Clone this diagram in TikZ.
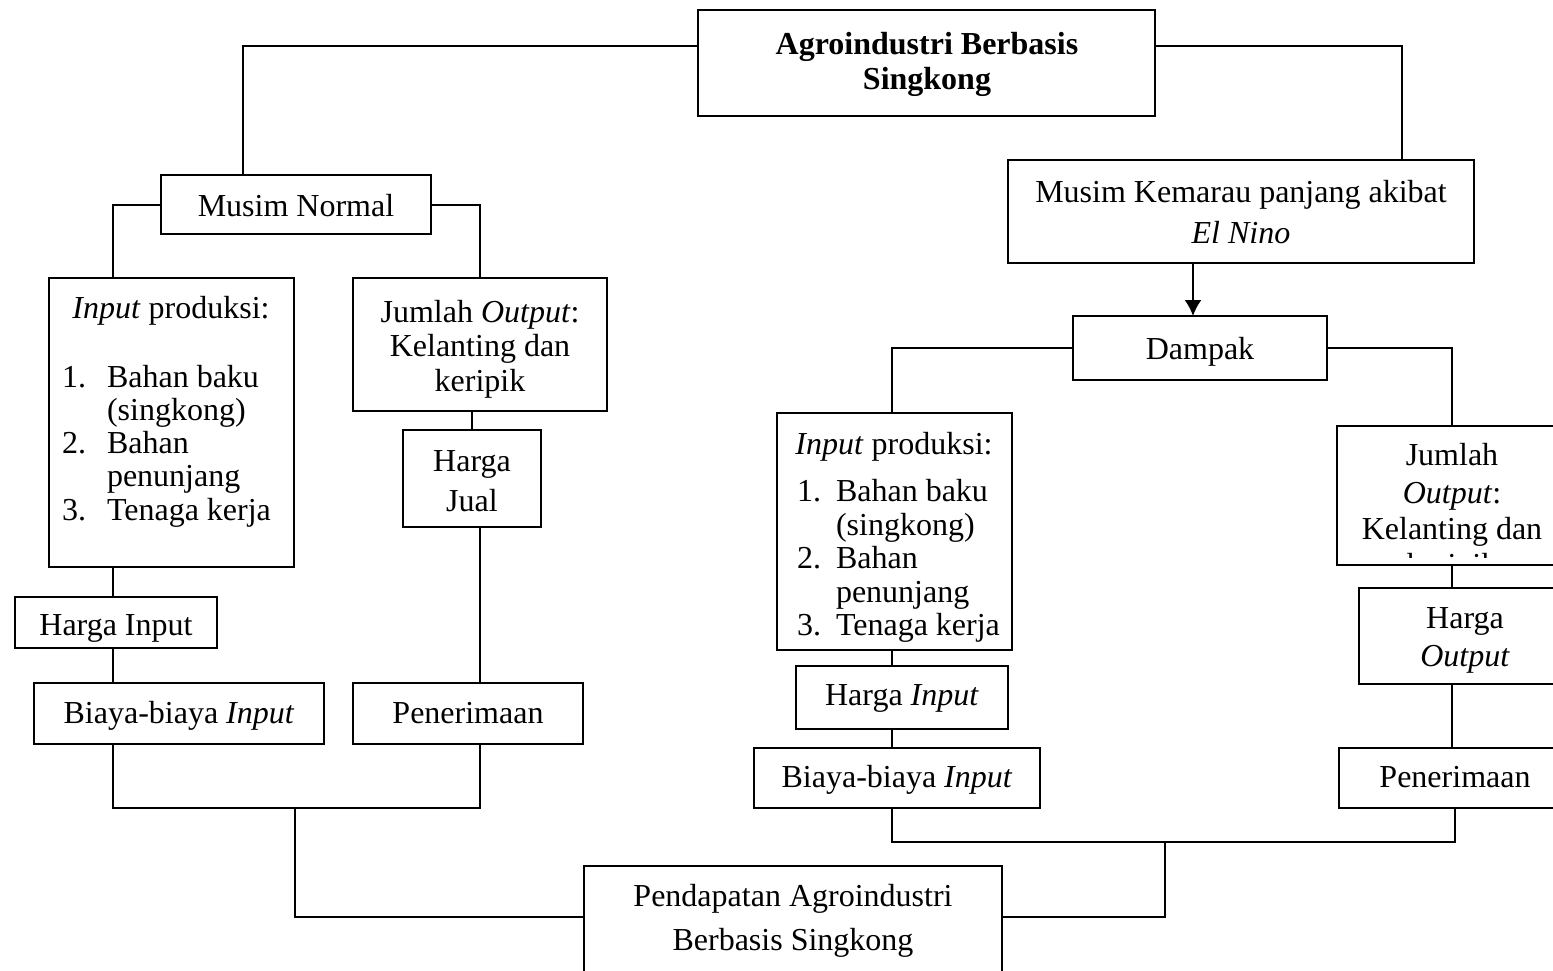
\documentclass[tikz,border=0pt]{standalone}
\usepackage{fontspec}
\setmainfont{Liberation Serif}
\usetikzlibrary{arrows.meta}
\begin{document}
\begin{tikzpicture}[x=1pt,y=-1pt,line width=2pt,
  box/.style={draw,inner sep=0pt,outer sep=0pt},
  txt/.style={inner sep=0pt,outer sep=0pt,anchor=base,font=\fontsize{32}{33}\selectfont},
  txtl/.style={txt,anchor=base west},
  conn/.style={line width=2pt}]
\useasboundingbox (0,0) rectangle (1553,971);
\clip (0,0) rectangle (1553,971);
% boxes
\node[box,minimum width=457pt,minimum height=106pt] (top) at (926.5,63) {};
\node[box,minimum width=270pt,minimum height=59pt] (mn) at (296,204.5) {};
\node[box,minimum width=245pt,minimum height=289pt] (inL) at (171.5,422.5) {};
\node[box,minimum width=254pt,minimum height=133pt] (outL) at (480,344.5) {};
\node[box,minimum width=138pt,minimum height=97pt] (hj) at (472,478.5) {};
\node[box,minimum width=202pt,minimum height=51pt] (hiL) at (116,622.5) {};
\node[box,minimum width=290pt,minimum height=61pt] (biL) at (179,713.5) {};
\node[box,minimum width=230pt,minimum height=61pt] (peL) at (468,713.5) {};
\node[box,minimum width=418pt,minimum height=134pt] (pd) at (793,933) {};
\node[box,minimum width=466pt,minimum height=103pt] (mk) at (1241,211.5) {};
\node[box,minimum width=254pt,minimum height=64pt] (dk) at (1200,348) {};
\node[box,minimum width=235pt,minimum height=237pt] (inR) at (894.5,531.5) {};
\node[box,minimum width=212pt,minimum height=63pt] (hiR) at (902,697.5) {};
\node[box,minimum width=286pt,minimum height=60pt] (biR) at (897,778) {};
\node[box,minimum width=243pt,minimum height=139pt] (jumR) at (1458.5,495.5) {};
\node[box,minimum width=221pt,minimum height=96pt] (hoR) at (1469.5,636) {};
\node[box,minimum width=241pt,minimum height=60pt] (peR) at (1459.5,778) {};
% texts
\node[txt,font=\fontsize{32}{33}\selectfont\bfseries] (t1a) at (927,55) {Agroindustri Berbasis};
\node[txt,font=\fontsize{32}{33}\selectfont\bfseries] (t1b) at (927,90) {Singkong};
\node[txt] (t2) at (296,216) {Musim Normal};
\node[txt] (t3) at (171,318) {\textit{Input} produksi:};
\node[txtl] (t3n1) at (62,387) {1.};
\node[txtl] (t3a) at (107,387) {Bahan baku};
\node[txtl] (t3b) at (107,420) {(singkong)};
\node[txtl] (t3n2) at (62,453) {2.};
\node[txtl] (t3c) at (107,453) {Bahan};
\node[txtl] (t3d) at (107,486) {penunjang};
\node[txtl] (t3n3) at (62,520) {3.};
\node[txtl] (t3e) at (107,520) {Tenaga kerja};
\node[txt] (t4a) at (480,322) {Jumlah \textit{Output}:};
\node[txt] (t4b) at (480,356) {Kelanting dan};
\node[txt] (t4c) at (480,391) {keripik};
\node[txt] (t5a) at (472,471) {Harga};
\node[txt] (t5b) at (472,511) {Jual};
\begin{scope}
\clip (hiL.north west) rectangle (217,641);
\node[txt] (t6) at (116,635) {Harga Input};
\end{scope}
\node[txt] (t7) at (179,723) {Biaya-biaya \textit{Input}};
\node[txt] (t8) at (468,723) {Penerimaan};
\node[txt] (t9a) at (793,906) {Pendapatan Agroindustri};
\node[txt] (t9b) at (793,950) {Berbasis Singkong};
\node[txt] (t10a) at (1241,202) {Musim Kemarau panjang akibat};
\node[txt] (t10b) at (1241,243) {\textit{El Nino}};
\node[txt] (t11) at (1200,359) {Dampak};
\begin{scope}
\clip (inR.north west) rectangle (1012,641);
\node[txt] (t12) at (894,454) {\textit{Input} produksi:};
\node[txtl] (t12n1) at (797,501) {1.};
\node[txtl] (t12a) at (836,501) {Bahan baku};
\node[txtl] (t12b) at (836,535) {(singkong)};
\node[txtl] (t12n2) at (797,568) {2.};
\node[txtl] (t12c) at (836,568) {Bahan};
\node[txtl] (t12d) at (836,602) {penunjang};
\node[txtl] (t12n3) at (797,635) {3.};
\node[txtl] (t12e) at (836,635) {Tenaga kerja};
\end{scope}
\node[txt] (t13) at (902,705) {Harga \textit{Input}};
\node[txt] (t14) at (897,787) {Biaya-biaya \textit{Input}};
\begin{scope}
\clip (jumR.north west) rectangle (1580,557);
\node[txt] (t15a) at (1452,465) {Jumlah};
\node[txt] (t15b) at (1452,503) {\textit{Output}:};
\node[txt] (t15c) at (1452,539) {Kelanting dan};
\node[txt] (t15d) at (1452,575) {keripik};
\end{scope}
\node[txt] (t16a) at (1465,628) {Harga};
\node[txt] (t16b) at (1465,666) {\textit{Output}};
\node[txt] (t17) at (1455,787) {Penerimaan};
% junctions
\coordinate (jL) at (295,808);
\coordinate (jR) at (1165,842);
% connectors
\draw[conn] ([yshift=17pt]top.west) -| ([xshift=-53pt]mn.north);
\draw[conn] ([yshift=17pt]top.east) -| ([xshift=161pt]mk.north);
\draw[conn] (mn.west) -| ([xshift=-58.5pt]inL.north);
\draw[conn] (mn.east) -| (outL.north);
\draw[conn] (hj.north |- outL.south) -- (hj.north);
\draw[conn] ([xshift=8pt]hj.south) -- ([xshift=8pt]hj.south |- peL.north);
\draw[conn] ([xshift=-58.5pt]inL.south) -- ([xshift=-58.5pt]inL.south |- hiL.north);
\draw[conn] ([xshift=-58.5pt]inL.south |- hiL.south) -- ([xshift=-58.5pt]inL.south |- biL.north);
\draw[conn] ([xshift=-66pt]biL.south) |- (jL) -| ([xshift=12pt]peL.south);
\draw[conn] (jL) |- ([yshift=16pt]pd.west);
\draw[conn] ([yshift=16pt]pd.east) -| (jR);
\draw[conn] ([xshift=-5pt]biR.south) |- (jR) -| ([xshift=-4.5pt]peR.south);
\draw[conn,-{Latex[length=16pt,width=17pt]}] ([xshift=-48pt]mk.south) -- ([xshift=-48pt]mk.south |- dk.north);
\draw[conn] (dk.west) -| ([xshift=-2.5pt]inR.north);
\draw[conn] (dk.east) -| ([xshift=-6.5pt]jumR.north);
\draw[conn] ([xshift=-2.5pt]inR.south) -- ([xshift=-2.5pt]inR.south |- hiR.north);
\draw[conn] ([xshift=-2.5pt]inR.south |- hiR.south) -- ([xshift=-2.5pt]inR.south |- biR.north);
\draw[conn] ([xshift=-6.5pt]jumR.south) -- ([xshift=-6.5pt]jumR.south |- hoR.north);
\draw[conn] ([xshift=-6.5pt]jumR.south |- hoR.south) -- ([xshift=-6.5pt]jumR.south |- peR.north);
\end{tikzpicture}
\end{document}
